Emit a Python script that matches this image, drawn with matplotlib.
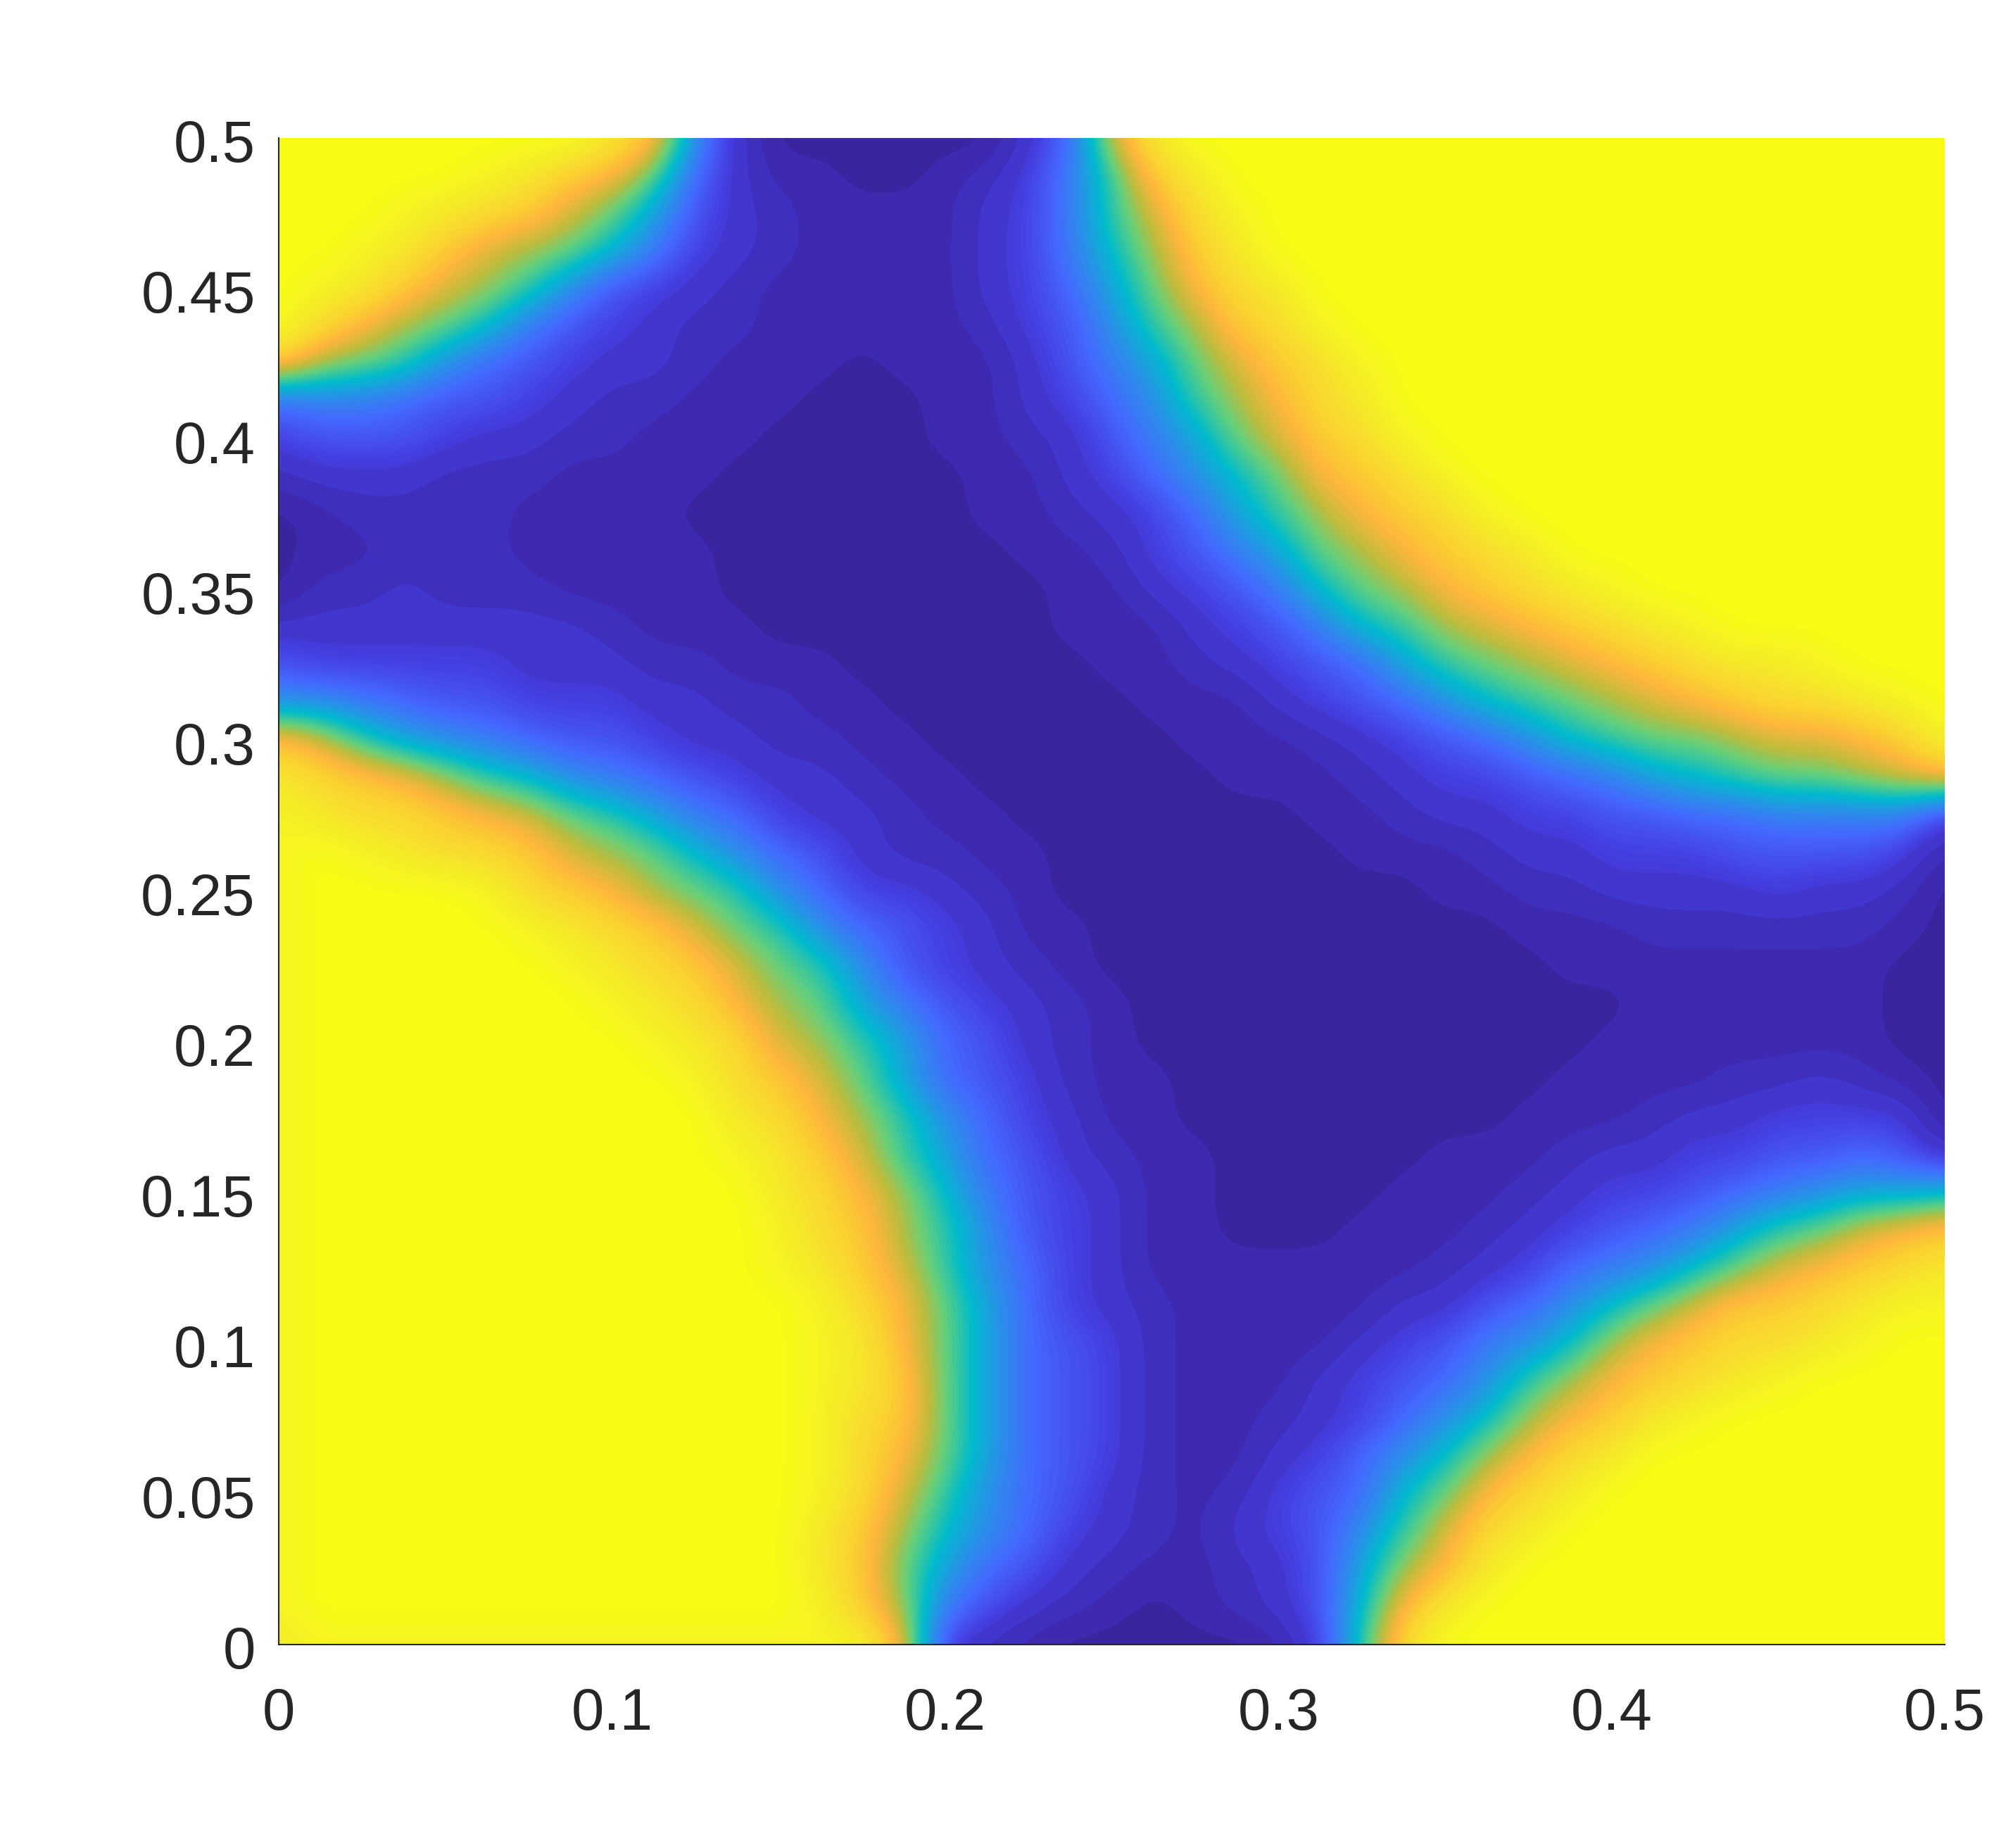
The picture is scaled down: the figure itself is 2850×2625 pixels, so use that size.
import numpy as np
import matplotlib
matplotlib.use("Agg")
import matplotlib.pyplot as plt
from matplotlib.colors import LinearSegmentedColormap, BoundaryNorm, ListedColormap
from matplotlib.transforms import ScaledTranslation

plt.rcParams['font.family'] = ['Liberation Sans', 'DejaVu Sans']

# Field on a 41 x 41 grid (0 .. 0.5), top row is y = 0.5.
# Scale: 0 darkest blue, 6 bright blue, 10 teal, 15 orange, 20 yellow.
# Rows that stop early continue in yellow (20) up to the right edge.
field_rows = [
 [20,20,20,20,20,20,20,20,18,16,8,3,0,0,0,0,0,0,3,6,14,18,20],
 [20,20,20,20,20,19,18,16,15,12,6,3,1,1,0,0,1,2,4,7,11,16,18,20],
 [20,20,20,19,18,17,16,14,12,9,5,3,2,1,1,1,1,3,4,7,11,14,17,19,20],
 [20,20,19,18,16,14,13,12,10,7,4,3,2,1,1,1,1,3,4,7,10,13,16,18,20],
 [20,19,18,16,14,13,11,8,5,4,3,2,1,1,1,1,1,3,4,6,9,12,15,17,18,20],
 [20,17,15,13,12,10,7,5,4,3,2,2,1,1,1,1,1,2,4,5,8,11,13,16,17,19,20],
 [16,13,12,11,8,6,5,4,3,3,2,1,1,1,0,1,1,1,3,5,7,9,12,14,16,17,19,20],
 [6,7,7,6,5,5,4,3,2,2,1,1,1,0,0,0,1,1,3,4,6,8,11,13,15,17,18,20],
 [4,5,5,5,4,3,3,2,2,1,1,1,0,0,0,0,1,1,2,3,5,7,9,12,14,16,17,19,20],
 [2,3,3,3,2,2,2,1,1,1,1,0,0,0,0,0,0,1,1,3,4,6,8,10,12,15,16,17,19,20],
 [0,1,2,2,2,2,1,1,1,1,0,0,0,0,0,0,0,1,1,2,3,4,6,9,11,13,15,16,17,19,20],
 [0,1,1,2,2,2,1,1,1,1,1,0,0,0,0,0,0,0,1,1,2,4,5,7,9,12,13,15,16,17,18,20],
 [0,2,2,3,2,2,2,1,1,1,1,0,0,0,0,0,0,0,0,1,1,3,4,5,7,10,12,13,15,16,17,18,19,20],
 [3,3,3,3,3,3,3,3,2,1,1,1,0,0,0,0,0,0,0,1,1,1,3,4,5,7,10,11,13,14,15,16,17,18,19,20],
 [5,4,4,4,4,4,3,3,3,2,2,1,1,1,0,0,0,0,0,0,1,1,2,3,4,5,6,9,11,12,13,14,15,16,17,18,18,19,20],
 [8,8,7,6,5,5,4,4,4,3,3,2,2,1,1,0,0,0,0,0,0,1,1,1,3,4,5,6,8,10,11,12,13,14,15,16,17,17,18,19,20],
 [16,14,11,9,8,7,6,5,5,4,3,3,2,2,1,1,0,0,0,0,0,0,1,1,1,2,3,4,5,6,8,10,11,12,12,13,14,14,15,16,19],
 [18,17,16,15,13,11,10,8,7,6,5,4,3,3,2,1,1,0,0,0,0,0,0,1,1,1,2,3,4,4,5,6,7,9,10,11,12,12,13,14,15],
 [19,18,17,17,16,15,14,12,11,9,7,6,4,3,3,2,1,1,0,0,0,0,0,0,0,1,1,2,3,3,4,4,5,5,6,6,7,7,7,7,4],
 [19,20,19,18,17,17,16,14,13,12,10,8,6,5,3,2,2,1,1,0,0,0,0,0,0,0,1,1,1,2,3,3,4,4,4,5,5,5,5,4,1],
 [19,20,20,20,20,19,17,16,15,13,12,11,8,6,4,4,3,2,1,0,0,0,0,0,0,0,0,0,1,1,2,2,3,3,3,3,4,3,3,2,0],
 [19,20,20,20,20,20,19,18,17,16,14,12,11,8,6,5,4,3,1,1,0,0,0,0,0,0,0,0,0,0,1,1,1,2,2,2,2,2,2,1,0],
 [19,20,20,20,20,20,20,19,18,17,16,14,12,11,8,5,4,3,2,1,0,0,0,0,0,0,0,0,0,0,0,1,1,1,1,1,1,1,1,0,0],
 [19,20,20,20,20,20,20,20,19,18,17,15,13,12,9,7,5,4,3,2,1,0,0,0,0,0,0,0,0,0,0,0,0,1,1,1,1,1,1,0,0],
 [19,20,20,20,20,20,20,20,20,19,18,17,14,13,11,9,6,5,3,2,1,0,0,0,0,0,0,0,0,0,0,0,1,1,1,1,1,1,1,0,0],
 [19,20,20,20,20,20,20,20,20,20,19,17,16,14,12,9,6,5,4,2,1,1,0,0,0,0,0,0,0,0,0,1,1,1,1,2,2,3,2,1,0],
 [19,20,20,20,20,20,20,20,20,20,20,18,17,15,13,11,8,6,4,3,1,1,0,0,0,0,0,0,0,0,1,1,1,2,3,3,4,4,4,4,0],
 [19,20,20,20,20,20,20,20,20,20,20,19,18,16,14,11,9,6,5,3,2,1,1,0,0,0,0,0,1,1,1,2,3,3,4,4,5,5,6,5,3],
 [19,20,20,20,20,20,20,20,20,20,20,20,18,17,15,13,10,7,5,4,3,1,1,0,0,0,0,1,1,1,2,3,4,4,5,6,7,8,9,9,10],
 [19,20,20,20,20,20,20,20,20,20,20,20,19,17,16,13,11,8,5,4,3,1,1,0,0,0,1,1,1,2,3,4,5,6,7,9,11,12,14,15,16],
 [19,20,20,20,20,20,20,20,20,20,20,20,19,18,16,14,11,8,6,4,3,1,1,1,1,1,1,1,2,3,4,6,7,8,10,12,14,15,16,17,18],
 [19,20,20,20,20,20,20,20,20,20,20,20,20,19,17,15,12,9,6,4,3,2,1,1,1,1,1,3,3,5,6,8,10,12,14,16,16,17,18,19,19],
 [19,20,20,20,20,20,20,20,20,20,20,20,20,19,18,15,12,9,6,5,4,2,1,1,1,1,3,4,5,7,8,10,13,15,16,17,17,18,19,20,20],
 [19,20,20,20,20,20,20,20,20,20,20,20,20,19,18,16,12,9,6,5,4,2,1,1,1,3,4,5,6,8,11,13,15,16,17,18,19,20],
 [19,20,20,20,20,20,20,20,20,20,20,20,20,19,17,16,12,9,6,5,4,2,1,1,2,3,4,6,8,10,13,15,16,18,19,20],
 [19,20,20,20,20,20,20,20,20,20,20,20,20,19,17,15,12,9,6,5,4,2,1,1,3,4,6,8,10,13,15,17,18,20],
 [19,20,20,20,20,20,20,20,20,20,20,20,20,19,17,14,11,8,6,5,3,2,1,2,4,5,6,10,12,15,17,18,20],
 [19,20,20,20,20,20,20,20,20,20,20,20,20,18,16,13,10,8,6,4,3,2,1,3,4,5,8,11,14,17,18,20],
 [19,20,20,20,20,20,20,20,20,20,20,20,20,18,16,12,9,6,5,3,2,1,1,2,3,5,9,13,15,18,20],
 [19,20,20,20,20,20,20,20,20,20,20,20,20,19,16,13,7,5,3,2,1,0,1,2,3,5,10,15,18,20],
 [18,19,19,19,19,19,19,19,19,19,19,19,19,19,19,15,4,2,1,0,0,0,0,0,1,4,11,17,20],
]
x_ticks = [0, 0.1, 0.2, 0.3, 0.4, 0.5]
x_labels = ['0', '0.1', '0.2', '0.3', '0.4', '0.5']
y_ticks = [0, 0.05, 0.1, 0.15, 0.2, 0.25, 0.3, 0.35, 0.4, 0.45, 0.5]
y_labels = ['0', '0.05', '0.1', '0.15', '0.2', '0.25', '0.3', '0.35', '0.4', '0.45', '0.5']

color_stops = [(0, '#3a249f'), (1, '#3e2bb2'), (2, '#4030bf'), (3, '#4237cf'), (4, '#4640e2'),
               (6, '#4468ff'), (8, '#2a90ea'), (10, '#00bccc'), (12, '#62d07c'),
               (13.5, '#c0bc3c'), (15, '#ffb63c'), (16.5, '#fbd430'), (18, '#f6e82a'),
               (19, '#f7f322'), (20, '#f9fb14')]
base = LinearSegmentedColormap.from_list('field', [(v / 20, c) for v, c in color_stops], N=512)

Z = np.array([r + [20] * (41 - len(r)) for r in field_rows], dtype=float)

W, H = 2850, 2625
fig = plt.figure(figsize=(W / 300, H / 300), dpi=300)
ax = fig.add_axes([396 / W, 1 - 2336 / H, (2763 - 396) / W, (2336 - 196) / H])

levels = np.array([-5, 0.5, 1.5, 2.5, 3.5] + list(np.arange(3.75, 19.9, 0.25)) + [30])
mids = (np.clip(levels[:-1], 0, 20) + np.clip(levels[1:], 0, 20)) / 2
mids[0] = 0
mids[-1] = 20
cmap = ListedColormap(base(mids / 20))
norm = BoundaryNorm(levels, cmap.N)
half = 0.00625
ax.imshow(Z, extent=(-half, 0.5 + half, -half, 0.5 + half), origin='upper', aspect='auto',
          cmap=cmap, norm=norm, interpolation='bicubic', interpolation_stage='data', zorder=1)

ax.set_xlim(0, 0.5)
ax.set_ylim(0, 0.5)
ax.set_xticks(x_ticks, x_labels)
ax.set_yticks(y_ticks, y_labels)
ax.set_xticks([0.5], minor=True)
ax.set_yticks([0.5], minor=True)
ax.tick_params(which='major', length=0, labelsize=20, labelcolor='#262626')
ax.tick_params(axis='x', which='major', pad=14.3)
ax.tick_params(axis='y', which='major', pad=8)
ax.tick_params(which='minor', direction='in', length=6.5, width=0.5, color='#262626')
shift = ScaledTranslation(0, -0.9 / 72, fig.dpi_scale_trans)
for label in ax.get_yticklabels():
    label.set_transform(label.get_transform() + shift)
ax.spines['top'].set_visible(False)
ax.spines['right'].set_visible(False)
for side in ('left', 'bottom'):
    ax.spines[side].set_linewidth(0.5)
    ax.spines[side].set_color('#262626')

fig.savefig('out.png', dpi=300)
